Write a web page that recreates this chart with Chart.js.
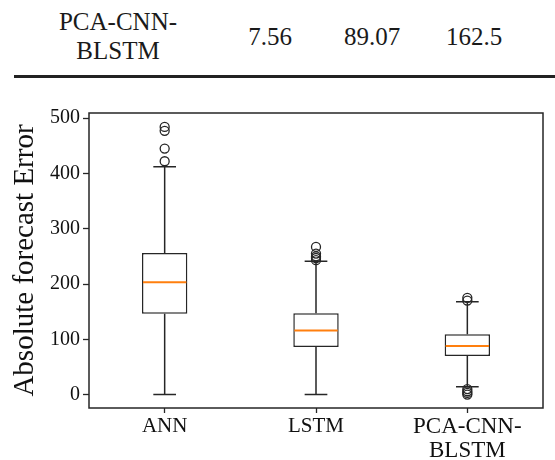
<!DOCTYPE html>
<html>
<head>
<meta charset="utf-8">
<script src="https://cdn.jsdelivr.net/npm/chart.js@4/dist/chart.umd.min.js"></script>
<style>
  body { margin: 0; background: #fff; }
  #wrap { position: relative; width: 555px; height: 460px; }
  #charts { position: absolute; left: 0; top: 0; }
  .cell { position: absolute; font-family: 'Liberation Serif', 'Times New Roman', serif; font-size: 25px; line-height: 29px; color: #1a1a1a; text-align: center; width: 160px; }
  #rule { position: absolute; left: 14px; right: 0; top: 75px; height: 2.5px; background: #222; }
</style>
</head>
<body>
<div id="wrap">
  <div class="cell" style="left:38px; top:7px;">PCA-CNN-<br>BLSTM</div>
  <div class="cell" style="left:190px; top:22px;">7.56</div>
  <div class="cell" style="left:292px; top:22px;">89.07</div>
  <div class="cell" style="left:394px; top:22px;">162.5</div>
  <div id="rule"></div>
  <canvas id="charts" width="555" height="460"></canvas>
</div>
<script>
// data
const categories = ["ANN", "LSTM", "PCA-CNN-BLSTM"];
const tickLabels = ["ANN", "LSTM", ["PCA-CNN-", "BLSTM"]];
const lowWhisker = [0, 0, 14];
const q1 = [146, 86, 70];
const median = [203, 116, 88];
const q3 = [256, 147, 109];
const highWhisker = [412, 241, 168];
const outliers = [
    [422, 445, 477, 484],
    [243, 247, 250, 255, 267],
    [0, 3, 6, 10, 170, 175],
];
const yTicks = [0, 100, 200, 300, 400, 500];

const ink = "#262626";
const serif = "'Liberation Serif', 'Times New Roman', serif";

// whiskers, caps and median lines, placed through the scales
const boxExtras = {
    id: "boxExtras",
    afterDatasetsDraw(chart) {
        const { ctx, scales } = chart;
        const xs = scales.x;
        const ys = scales.y;
        const boxes = chart.getDatasetMeta(0).data;
        ctx.save();
        categories.forEach((c, i) => {
            const x = xs.getPixelForValue(i);
            const half = boxes[i].width / 2;
            const cap = half / 2;
            ctx.strokeStyle = ink;
            ctx.lineWidth = 1.5;
            ctx.beginPath();
            ctx.moveTo(x, ys.getPixelForValue(q1[i]));
            ctx.lineTo(x, ys.getPixelForValue(lowWhisker[i]));
            ctx.moveTo(x, ys.getPixelForValue(q3[i]));
            ctx.lineTo(x, ys.getPixelForValue(highWhisker[i]));
            ctx.moveTo(x - cap, ys.getPixelForValue(lowWhisker[i]));
            ctx.lineTo(x + cap, ys.getPixelForValue(lowWhisker[i]));
            ctx.moveTo(x - cap, ys.getPixelForValue(highWhisker[i]));
            ctx.lineTo(x + cap, ys.getPixelForValue(highWhisker[i]));
            ctx.stroke();
            // median
            ctx.strokeStyle = "#ff7f0e";
            ctx.lineWidth = 2;
            ctx.beginPath();
            const my = ys.getPixelForValue(median[i]);
            ctx.moveTo(x - half + 1, my);
            ctx.lineTo(x + half - 1, my);
            ctx.stroke();
        });
        // frame round the plot
        const a = chart.chartArea;
        ctx.strokeStyle = ink;
        ctx.lineWidth = 1.5;
        ctx.strokeRect(a.left, a.top, a.right - a.left, a.bottom - a.top);
        ctx.restore();
    },
};

const flierPoints = [];
outliers.forEach((list, i) => {
    list.forEach((v) => flierPoints.push({ x: categories[i], y: v }));
});

new Chart(document.getElementById("charts"), {
    type: "bar",
    data: {
        labels: categories,
        datasets: [
            {
                label: "box",
                data: categories.map((c, i) => [q1[i], q3[i]]),
                backgroundColor: "#ffffff",
                borderColor: ink,
                borderWidth: 1.5,
                borderSkipped: false,
                barPercentage: 0.3,
                categoryPercentage: 1,
            },
            {
                type: "line",
                label: "fliers",
                data: flierPoints,
                showLine: false,
                pointRadius: 4.5,
                pointBorderWidth: 1.3,
                pointBorderColor: ink,
                pointBackgroundColor: "rgba(0,0,0,0)",
            },
        ],
    },
    options: {
        responsive: false,
        animation: false,
        layout: { padding: { top: 113, right: 12, left: 0, bottom: 0 } },
        plugins: { legend: { display: false }, tooltip: { enabled: false } },
        scales: {
            x: {
                offset: true,
                grid: { display: true, offset: false, drawOnChartArea: false, tickLength: 5, color: ink, tickWidth: 1.3 },
                border: { display: false },
                ticks: {
                    color: "#111",
                    padding: 2,
                    maxRotation: 0,
                    callback: (v, i) => tickLabels[i],
                    font: (ctx) => ({ family: serif, size: ctx.index === 2 ? 23 : 21, lineHeight: 1.05 }),
                },
                afterFit: (scale) => { scale.height = 52; },
            },
            y: {
                min: -24.25,
                max: 509.25,
                grid: { display: true, drawOnChartArea: false, tickLength: 6, color: ink, tickWidth: 1.3 },
                border: { display: false },
                ticks: { color: "#111", padding: 3, font: { family: serif, size: 20 } },
                afterBuildTicks: (scale) => { scale.ticks = yTicks.map((v) => ({ value: v })); },
                title: {
                    display: true,
                    text: "Absolute forecast Error",
                    color: "#111",
                    font: { family: serif, size: 29 },
                    padding: { top: 8, bottom: 4 },
                },
                afterFit: (scale) => { scale.width = 89; },
            },
        },
    },
    plugins: [boxExtras],
});
</script>
</body>
</html>
